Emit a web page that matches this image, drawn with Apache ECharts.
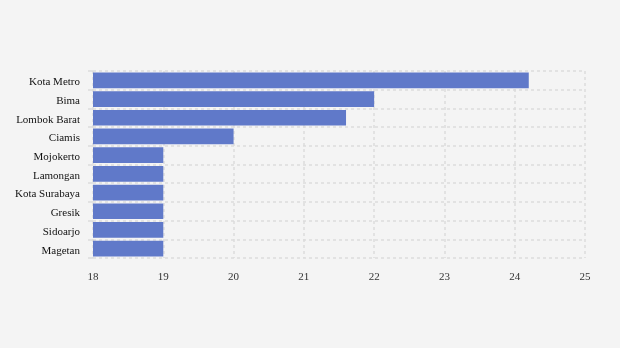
<!DOCTYPE html>
<html><head><meta charset="utf-8">
<script src="https://cdn.jsdelivr.net/npm/echarts@6/dist/echarts.min.js"></script>
<style>html,body{margin:0;padding:0;background:#f4f4f4}#c{width:620px;height:348px}</style>
</head><body><div id="c"></div>
<script>
var categories = ["Kota Metro","Bima","Lombok Barat","Ciamis","Mojokerto","Lamongan","Kota Surabaya","Gresik","Sidoarjo","Magetan"];
var values = [24.2, 22.0, 21.6, 20.0, 19.0, 19.0, 19.0, 19.0, 19.0, 19.0];
var xTicks = [18, 19, 20, 21, 22, 23, 24, 25];

var chart = echarts.init(document.getElementById('c'));
var grid = {color:'#dcdcdc', width:1.5, type:[3,3]};
chart.setOption({
  backgroundColor:'#f4f4f4',
  animation:false,
  textStyle:{fontFamily:'Liberation Serif'},
  grid:{left:93, right:35, top:71, bottom:90, containLabel:false},
  xAxis:{type:'value', min:xTicks[0], max:xTicks[xTicks.length-1], interval:1,
    axisLine:{show:false}, axisTick:{show:false},
    axisLabel:{color:'#333', fontSize:11, fontFamily:'Liberation Serif', margin:14},
    splitLine:{show:true, lineStyle:grid}},
  yAxis:{type:'category', inverse:true, data:categories,
    axisLine:{show:false},
    axisTick:{show:true, length:5, lineStyle:{color:'#dcdcdc', width:1.5}},
    axisLabel:{color:'#111', fontSize:11, fontFamily:'Liberation Serif', margin:13,
      formatter:function(v){return '{a|' + v + '}';},
      rich:{a:{color:'#111', fontSize:11, fontFamily:'Liberation Serif', padding:[4,0,0,0]}}},
    splitLine:{show:true, lineStyle:grid}},
  series:[{type:'bar', data:values, barCategoryGap:'16%',
    itemStyle:{color:'#6079c9'}}]
});
</script></body></html>
